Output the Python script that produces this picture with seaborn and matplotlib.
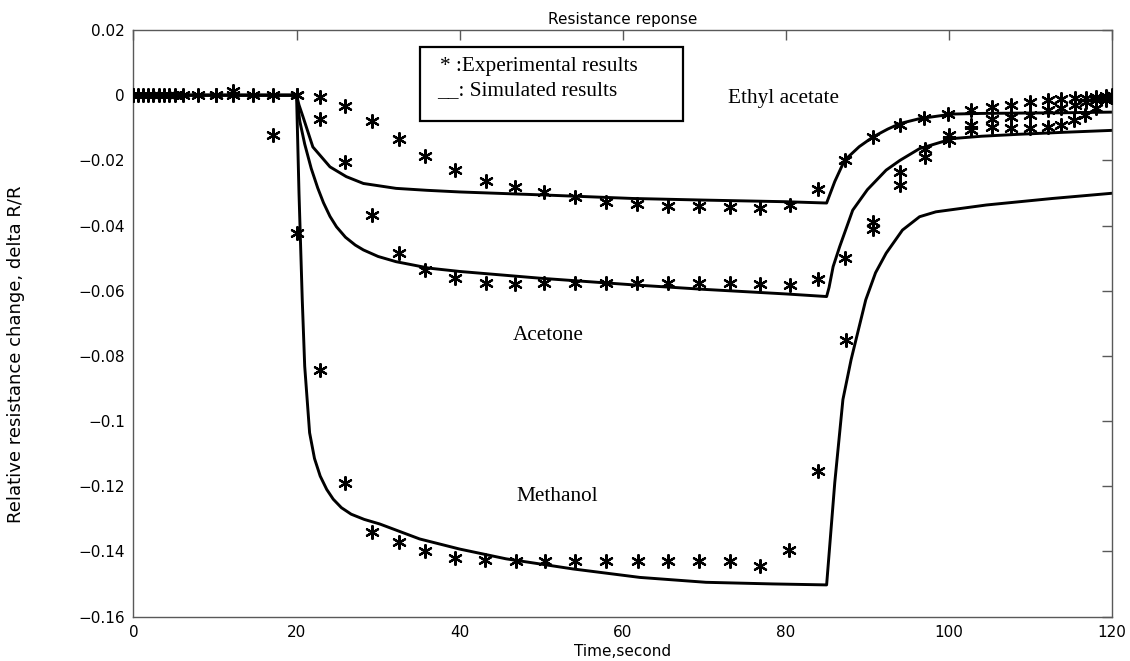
import matplotlib
matplotlib.use("Agg")
import matplotlib.pyplot as plt
import seaborn as sns
import pandas as pd
from matplotlib.patches import Rectangle

# ---------------- data ----------------
# Simulated curves
ethyl_sim_t = [0, 20, 20.3, 20.8, 22.0, 24.1, 26.1, 28.2, 32.2, 36.0, 40.0, 50.0, 61.2, 70.0,
               80.0, 85.0, 86.0, 87.2, 89.0, 90.7, 92.5, 94.0, 96.4, 100.4, 104.0, 108.6,
               114.0, 120.0]
ethyl_sim_v = [0, 0, -0.0030, -0.0067, -0.0159, -0.0220, -0.0250, -0.0271, -0.0286, -0.0292,
               -0.0297, -0.0306, -0.0317, -0.0322, -0.0327, -0.0331, -0.0265, -0.0200,
               -0.0158, -0.0128, -0.0104, -0.0087, -0.0072, -0.0058, -0.0056, -0.0055,
               -0.0054, -0.0052]

acetone_sim_t = [0, 20, 20.4, 21.0, 21.8, 22.6, 23.3, 24.1, 24.9, 26.0, 27.2, 28.2, 30.0,
                 32.2, 36.3, 40.0, 50.0, 61.2, 70.0, 80.0, 85.0, 85.3, 85.8, 86.6, 88.2,
                 90.0, 92.3, 94.0, 96.4, 100.5, 104.0, 108.6, 114.0, 120.0]
acetone_sim_v = [0, 0, -0.0080, -0.0150, -0.0225, -0.0285, -0.0330, -0.0372, -0.0404,
                 -0.0436, -0.0460, -0.0475, -0.0495, -0.0511, -0.0531, -0.0541, -0.0562,
                 -0.0582, -0.0596, -0.0610, -0.0618, -0.0590, -0.0526, -0.0465, -0.0353,
                 -0.0290, -0.0230, -0.0200, -0.0164, -0.0133, -0.0126, -0.0120, -0.0114,
                 -0.0108]

methanol_sim_t = [0, 20, 20.3, 20.7, 21.0, 21.6, 22.2, 22.9, 23.7, 24.5, 25.5, 26.7, 28.3,
                  30.2, 35.1, 40.0, 45.7, 53.9, 62.1, 70.2, 78.4, 85.0, 86.0, 87.0, 88.0,
                  89.8, 91.0, 92.3, 94.3, 96.4, 98.4, 104.6, 112.7, 120.0]
methanol_sim_v = [0, 0, -0.0300, -0.0628, -0.0832, -0.1036, -0.1115, -0.1169, -0.1210,
                  -0.1240, -0.1266, -0.1286, -0.1302, -0.1316, -0.1362, -0.1393, -0.1423,
                  -0.1454, -0.1480, -0.1495, -0.1500, -0.1503, -0.1189, -0.0934, -0.0812,
                  -0.0628, -0.0545, -0.0485, -0.0414, -0.0373, -0.0358, -0.0337, -0.0317,
                  -0.0301]

# Experimental results
ethyl_exp_t = [0, 1.8, 3.7, 6.1, 10.1, 14.6, 20.0, 22.9, 25.9, 29.2, 32.6, 35.8, 39.4, 43.2,
               46.8, 50.4, 54.2, 58.0, 61.7, 65.5, 69.4, 73.1, 76.8, 80.5, 84.0, 87.2, 90.7,
               94.0, 97.0, 99.9, 102.7, 105.3, 107.6, 109.9, 112.1, 113.7, 115.4, 116.8,
               118.0, 119.3, 120.0]
ethyl_exp_v = [0, 0, 0, 0, 0, 0, 0, -0.0006, -0.0033, -0.0080, -0.0136, -0.0188, -0.0231,
               -0.0263, -0.0281, -0.0297, -0.0314, -0.0327, -0.0334, -0.0340, -0.0340,
               -0.0342, -0.0347, -0.0337, -0.0289, -0.0200, -0.0128, -0.0090, -0.0070,
               -0.0057, -0.0047, -0.0037, -0.0031, -0.0021, -0.0016, -0.0011, -0.0009,
               -0.0009, -0.0006, -0.0003, -0.0001]

acetone_exp_t = [0.6, 2.4, 4.3, 7.9, 12.2, 17.1, 20.0, 22.9, 25.9, 29.2, 32.6, 35.8, 39.4,
                 43.2, 46.8, 50.4, 54.2, 58.0, 61.7, 65.5, 69.4, 73.1, 76.8, 80.5, 83.9,
                 87.3, 90.7, 94.0, 97.1, 100.0, 102.7, 105.3, 107.6, 109.9, 112.1, 113.7,
                 115.4, 116.8, 118.0, 119.3]
acetone_exp_v = [0, 0, 0, 0, 0.0012, 0, 0, -0.0072, -0.0205, -0.0368, -0.0485, -0.0538,
                 -0.0562, -0.0577, -0.0579, -0.0577, -0.0577, -0.0577, -0.0577, -0.0577,
                 -0.0577, -0.0577, -0.0579, -0.0582, -0.0565, -0.0500, -0.0388, -0.0237,
                 -0.0164, -0.0123, -0.0090, -0.0072, -0.0067, -0.0060, -0.0047, -0.0039,
                 -0.0029, -0.0022, -0.0016, -0.0008]

methanol_exp_t = [0, 1.2, 3.1, 5.1, 10.1, 12.2, 17.1, 20.0, 22.9, 25.9, 29.2, 32.6, 35.8,
                  39.4, 43.1, 46.9, 50.5, 54.2, 58.0, 61.9, 65.5, 69.4, 73.2, 76.8, 80.4,
                  83.9, 87.4, 90.7, 94.0, 97.1, 100.0, 102.7, 105.3, 107.6, 109.9, 112.1,
                  113.7, 115.3, 116.7, 118.0, 119.3, 120.0]
methanol_exp_v = [0, 0, 0, 0, 0, 0, -0.0123, -0.0422, -0.0842, -0.1191, -0.1342, -0.1372,
                  -0.1398, -0.1420, -0.1426, -0.1431, -0.1431, -0.1429, -0.1431, -0.1429,
                  -0.1431, -0.1431, -0.1429, -0.1444, -0.1395, -0.1153, -0.0752, -0.0411,
                  -0.0276, -0.0189, -0.0138, -0.0108, -0.0099, -0.0101, -0.0101, -0.0098,
                  -0.0090, -0.0077, -0.0062, -0.0039, -0.0016, 0.0]

x_ticks = [0, 20, 40, 60, 80, 100, 120]
y_ticks = [0.02, 0, -0.02, -0.04, -0.06, -0.08, -0.1, -0.12, -0.14, -0.16]
y_tick_labels = ["0.02", "0", "\u22120.02", "\u22120.04", "\u22120.06", "\u22120.08",
                 "\u22120.1", "\u22120.12", "\u22120.14", "\u22120.16"]

title = "Resistance reponse"
x_label = "Time,second"
y_label = "Relative resistance change, delta R/R"
legend_lines = ["* :Experimental results", "__: Simulated results"]
gas_labels = ["Ethyl acetate", "Acetone", "Methanol"]

# ---------------- plotting ----------------
sns.set_style("white")
plt.rcParams["font.family"] = ["DejaVu Sans"]
plt.rcParams["text.color"] = "black"
plt.rcParams["axes.labelcolor"] = "black"

fig = plt.figure(figsize=(11.30, 6.61), dpi=100)
ax = fig.add_axes([0.1181, 0.0673, 0.8660, 0.8873])

sims = [(ethyl_sim_t, ethyl_sim_v), (acetone_sim_t, acetone_sim_v),
        (methanol_sim_t, methanol_sim_v)]
exps = [(ethyl_exp_t, ethyl_exp_v), (acetone_exp_t, acetone_exp_v),
        (methanol_exp_t, methanol_exp_v)]

for t, v in sims:
    df = pd.DataFrame({"t": t, "v": v})
    sns.lineplot(data=df, x="t", y="v", ax=ax, color="black", linewidth=2.1,
                 estimator=None, sort=False, zorder=2)

for t, v in exps:
    df = pd.DataFrame({"t": t, "v": v})
    sns.scatterplot(data=df, x="t", y="v", ax=ax, marker=(6, 2, 0), s=85,
                    color="black", edgecolor="black", linewidth=1.6, zorder=3)

ax.set_xlim(0, 120)
ax.set_ylim(-0.16, 0.02)
ax.set_xticks(x_ticks)
ax.set_xticklabels([str(x) for x in x_ticks])
ax.set_yticks(y_ticks)
ax.set_yticklabels(y_tick_labels)
ax.tick_params(direction="in", length=7, width=1, color="0.35", labelsize=11,
               top=True, right=True, labelcolor="black", pad=6)
for sp in ax.spines.values():
    sp.set_visible(True)
    sp.set_color("0.35")
    sp.set_linewidth(1.0)

ax.set_xlabel(x_label, fontsize=11, labelpad=3, color="black")
ax.set_ylabel(y_label, fontsize=13, color="black")
ax.yaxis.set_label_coords(-0.111, 0.447)
ax.set_title(title, fontsize=11, pad=4, color="black")

serif = ["Liberation Serif", "DejaVu Serif"]
# legend box (text only, as in the reference)
ax.add_patch(Rectangle((0.2928, 0.8448), 0.2688, 0.1262, transform=ax.transAxes,
                       fill=False, edgecolor="black", linewidth=1.6, zorder=4))
ax.text(0.3132, 0.9304, legend_lines[0], transform=ax.transAxes, family=serif,
        fontsize=15.3, va="baseline", ha="left")
ax.text(0.3099, 0.8887, legend_lines[1], transform=ax.transAxes, family=serif,
        fontsize=15.3, va="baseline", ha="left")

ax.text(72.9, -0.0024, gas_labels[0], family=serif, fontsize=15.3, va="baseline")
ax.text(46.5, -0.0750, gas_labels[1], family=serif, fontsize=15.3, va="baseline")
ax.text(47.0, -0.1245, gas_labels[2], family=serif, fontsize=15.3, va="baseline")

fig.savefig("out.png", dpi=100)
